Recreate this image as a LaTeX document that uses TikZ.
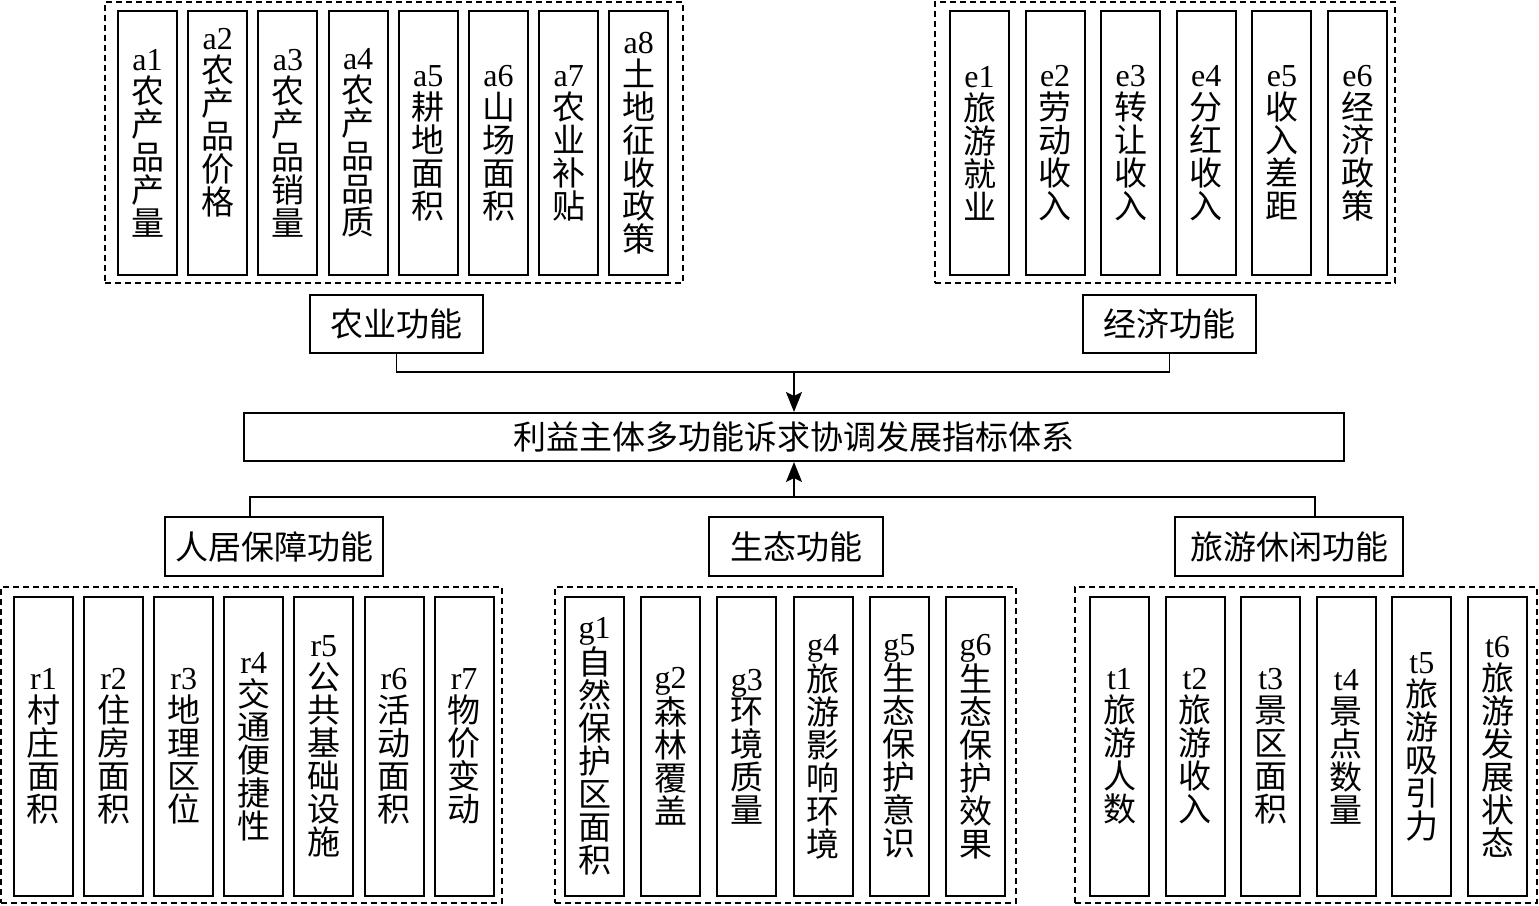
\documentclass[tikz,border=0pt]{standalone}
\usepackage{fontspec}
\setmainfont{Liberation Serif}
\newfontfamily\cjk{Noto Sans CJK SC}
\usetikzlibrary{arrows.meta}
\tikzset{
 ibox/.style={draw,line width=2pt,minimum width=59pt,inner sep=0pt},
 itext/.style={text width=52pt,align=center,inner sep=0pt,font=\fontsize{32}{33}\selectfont},
 grp/.style={draw,line width=1.8pt,dash pattern=on 6pt off 4pt,inner sep=0pt},
 fbox/.style={draw,line width=2pt,inner sep=0pt,font=\cjk\fontsize{33}{33}\selectfont},
 conn/.style={line width=1.8pt},
 arr/.style={conn,-{Stealth[length=20pt,width=16pt,inset=4pt]}}
}
\newcommand\ibx[6]{%
 \node[ibox,minimum height=#4] (#1) at (#2,#3) {};
 \node[itext] (#1t) at (#1.center) {#5\\\cjk\fontsize{33}{33}\selectfont #6};}
\begin{document}
\begin{tikzpicture}[x=1pt,y=-1pt]
\fill[white] (0,0) rectangle (1539,905);
\useasboundingbox (0,0) rectangle (1539,905);
% groups
\node[grp,minimum width=578pt,minimum height=281pt] (ga) at (394,142.5) {};
\node[grp,minimum width=460pt,minimum height=281pt] (ge) at (1165,142.5) {};
\node[grp,minimum width=501pt,minimum height=316pt] (gr) at (251.5,745) {};
\node[grp,minimum width=461pt,minimum height=316pt] (gg) at (785.5,745) {};
\node[grp,minimum width=462pt,minimum height=316pt] (gt) at (1306,745) {};
% a boxes
\ibx{a1}{147.5}{143}{264pt}{a1}{农\\产\\品\\产\\量}
\node[ibox,minimum height=264pt] (a2) at (217.7,143) {};
\node[itext] (a2t) at ([yshift=20pt]a2.center) {a2\\\cjk\fontsize{33}{33}\selectfont 农\\产\\品\\价\\格};
\ibx{a3}{287.9}{143}{264pt}{a3}{农\\产\\品\\销\\量}
\ibx{a4}{358.1}{143}{264pt}{a4}{农\\产\\品\\品\\质}
\ibx{a5}{428.3}{143}{264pt}{a5}{耕\\地\\面\\积}
\ibx{a6}{498.5}{143}{264pt}{a6}{山\\场\\面\\积}
\ibx{a7}{568.7}{143}{264pt}{a7}{农\\业\\补\\贴}
\ibx{a8}{638.7}{143}{264pt}{a8}{土\\地\\征\\收\\政\\策}
% e boxes
\ibx{e1}{979.5}{143}{264pt}{e1}{旅\\游\\就\\业}
\ibx{e2}{1055.1}{143}{264pt}{e2}{劳\\动\\收\\入}
\ibx{e3}{1130.7}{143}{264pt}{e3}{转\\让\\收\\入}
\ibx{e4}{1206.3}{143}{264pt}{e4}{分\\红\\收\\入}
\ibx{e5}{1281.9}{143}{264pt}{e5}{收\\入\\差\\距}
\ibx{e6}{1357.5}{143}{264pt}{e6}{经\\济\\政\\策}
% r boxes
\ibx{r1}{43.5}{746.5}{299pt}{r1}{村\\庄\\面\\积}
\ibx{r2}{113.6}{746.5}{299pt}{r2}{住\\房\\面\\积}
\ibx{r3}{183.7}{746.5}{299pt}{r3}{地\\理\\区\\位}
\ibx{r4}{253.8}{746.5}{299pt}{r4}{交\\通\\便\\捷\\性}
\ibx{r5}{323.9}{746.5}{299pt}{r5}{公\\共\\基\\础\\设\\施}
\ibx{r6}{394.0}{746.5}{299pt}{r6}{活\\动\\面\\积}
\ibx{r7}{464.1}{746.5}{299pt}{r7}{物\\价\\变\\动}
% g boxes
\ibx{g1}{594.5}{746.5}{299pt}{g1}{自\\然\\保\\护\\区\\面\\积}
\ibx{g2}{670.7}{746.5}{299pt}{g2}{森\\林\\覆\\盖}
\ibx{g3}{746.9}{746.5}{299pt}{g3}{环\\境\\质\\量}
\ibx{g4}{823.1}{746.5}{299pt}{g4}{旅\\游\\影\\响\\环\\境}
\ibx{g5}{899.3}{746.5}{299pt}{g5}{生\\态\\保\\护\\意\\识}
\ibx{g6}{975.5}{746.5}{299pt}{g6}{生\\态\\保\\护\\效\\果}
% t boxes
\ibx{t1}{1119.5}{746.5}{299pt}{t1}{旅\\游\\人\\数}
\ibx{t2}{1195.1}{746.5}{299pt}{t2}{旅\\游\\收\\入}
\ibx{t3}{1270.7}{746.5}{299pt}{t3}{景\\区\\面\\积}
\ibx{t4}{1346.3}{746.5}{299pt}{t4}{景\\点\\数\\量}
\ibx{t5}{1421.9}{746.5}{299pt}{t5}{旅\\游\\吸\\引\\力}
\ibx{t6}{1497.5}{746.5}{299pt}{t6}{旅\\游\\发\\展\\状\\态}
% function boxes
\node[fbox,minimum width=173pt,minimum height=58pt] (nong) at (396.5,324) {农业功能};
\node[fbox,minimum width=173pt,minimum height=58pt] (jing) at (1169.5,324) {经济功能};
\node[fbox,minimum width=1100pt,minimum height=48pt] (main) at (794,437) {利益主体多功能诉求协调发展指标体系};
\node[fbox,minimum width=218pt,minimum height=59pt] (renju) at (274,546.5) {人居保障功能};
\node[fbox,minimum width=174pt,minimum height=59pt] (sheng) at (796,546.5) {生态功能};
\node[fbox,minimum width=228pt,minimum height=59pt] (lvyou) at (1289,546.5) {旅游休闲功能};
% connectors
\coordinate (tj) at (794,372);
\draw[conn] (nong.south) |- (tj) -| (jing.south);
\draw[arr] (tj) -- (main.north);
\coordinate (bj) at (794,497);
\coordinate (rl) at (250,497);
\coordinate (rr) at (1315,497);
\draw[conn] (renju.north -| rl) -- (rl) -- (rr) -- (lvyou.north -| rr);
\draw[arr] (bj) -- (main.south);
\end{tikzpicture}
\end{document}
